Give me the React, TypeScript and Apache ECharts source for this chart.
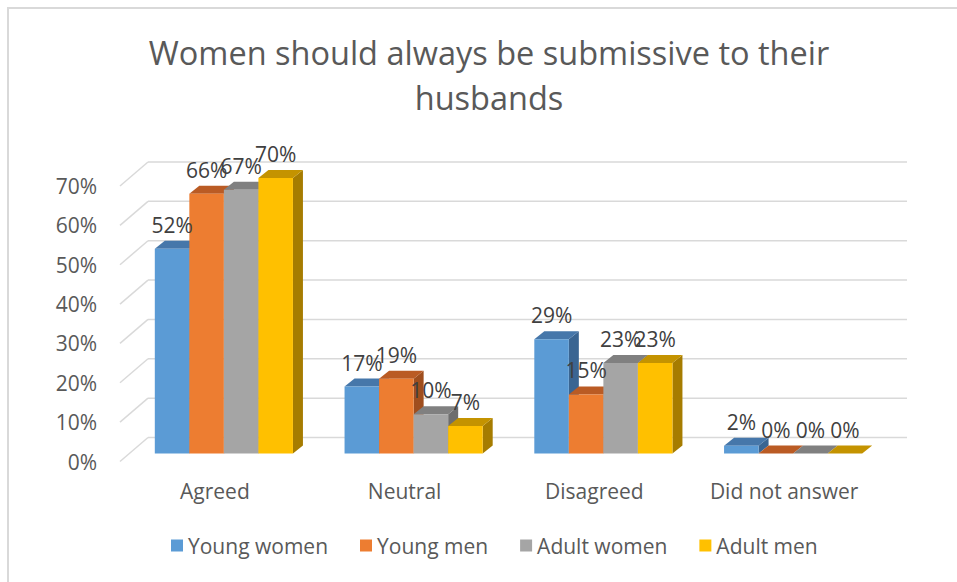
import React, { useEffect, useRef } from "react";
import * as echarts from "echarts";

const categories = ["Agreed", "Neutral", "Disagreed", "Did not answer"];
const seriesNames = ["Young women", "Young men", "Adult women", "Adult men"];
const youngWomen = [0.52, 0.17, 0.29, 0.02];
const youngMen = [0.66, 0.19, 0.15, 0.0];
const adultWomen = [0.67, 0.1, 0.23, 0.0];
const adultMen = [0.7, 0.07, 0.23, 0.0];
const yTicks = [0, 0.1, 0.2, 0.3, 0.4, 0.5, 0.6, 0.7];
const titleText = "Women should always be submissive to their\nhusbands";

const FRONT = ["#5B9BD5", "#ED7D31", "#A5A5A5", "#FFC000"];
const TOP = ["#4677AA", "#BA5B24", "#808080", "#C49300"];
const SIDE = ["#3A6592", "#9F4E1E", "#6E6E6E", "#A67C00"];

const FONT = "Open Sans";
const TXT = "#595959";
const BACK_DX = 28;
const BACK_DY = -24;
const BAR_DX = 9;
const BAR_DY = -8;
const DEPTH_DX = 10;
const DEPTH_DY = -8;

const pct = (v: number) => Math.round(v * 100) + "%";

export default function App() {
  const ref = useRef<HTMLDivElement>(null);
  useEffect(() => {
    if (!ref.current) return;
    const chart = echarts.init(ref.current, null, { renderer: "svg" });
    const allValues = [youngWomen, youngMen, adultWomen, adultMen];

    const makeBarRender = (si: number) => (params: any, api: any) => {
      const ci = api.value(0);
      const v = api.value(1);
      const base = api.coord([ci, 0]);
      const tp = api.coord([ci, v]);
      const band = api.size([1, 0])[0];
      const bw = band * 0.182;
      const x0 = base[0] - 2 * bw + si * bw + BAR_DX;
      const yb = base[1] + BAR_DY;
      const yt = tp[1] + BAR_DY;
      const h = yb - yt;
      const children: any[] = [
        {
          type: "polygon",
          shape: {
            points: [
              [x0 + bw, yt],
              [x0 + bw + DEPTH_DX, yt + DEPTH_DY],
              [x0 + bw + DEPTH_DX, yb + DEPTH_DY],
              [x0 + bw, yb],
            ],
          },
          style: { fill: SIDE[si] },
        },
        {
          type: "polygon",
          shape: {
            points: [
              [x0, yt],
              [x0 + DEPTH_DX, yt + DEPTH_DY],
              [x0 + bw + DEPTH_DX, yt + DEPTH_DY],
              [x0 + bw, yt],
            ],
          },
          style: { fill: TOP[si] },
        },
      ];
      if (h > 0) {
        children.push({
          type: "rect",
          shape: { x: x0, y: yt, width: bw, height: h },
          style: { fill: FRONT[si] },
        });
      }
      children.push({
        type: "text",
        z2: 100,
        style: {
          x: x0 + bw / 2,
          y: yt - 24,
          text: pct(v),
          align: "center",
          verticalAlign: "middle",
          fontFamily: FONT,
          fontSize: 21,
          fill: "#404040",
        },
      });
      return { type: "group", children };
    };

    const gridRender = (params: any, api: any) => {
      const cs = params.coordSys;
      const v = api.value(1);
      const p = api.coord([0, v]);
      const y = p[1];
      const xl = cs.x;
      const xr = cs.x + cs.width;
      return {
        type: "group",
        children: [
          {
            type: "line",
            shape: { x1: xl + BACK_DX, y1: y + BACK_DY, x2: xr + BACK_DX, y2: y + BACK_DY },
            style: { stroke: "#D9D9D9", lineWidth: 1.5 },
          },
          {
            type: "line",
            shape: { x1: xl, y1: y, x2: xl + BACK_DX, y2: y + BACK_DY },
            style: { stroke: "#D9D9D9", lineWidth: 1.5 },
          },
        ],
      };
    };

    const series: any[] = [
      {
        type: "custom",
        name: "grid",
        z: 1,
        silent: true,
        renderItem: gridRender,
        data: yTicks.map((t) => [0, t]),
        legendHoverLink: false,
      },
      ...seriesNames.map((name, si) => ({
        type: "custom",
        name,
        z: 2,
        itemStyle: { color: FRONT[si] },
        renderItem: makeBarRender(si),
        data: allValues[si].map((v, ci) => [ci, v]),
      })),
    ];

    chart.setOption({
      animation: false,
      backgroundColor: "#ffffff",
      graphic: [
        {
          type: "rect",
          shape: { x: 8, y: 8, width: 1000, height: 1000 },
          style: { fill: "none", stroke: "#D9D9D9", lineWidth: 2 },
          silent: true,
        },
        {
          type: "text",
          x: 489,
          y: 30,
          silent: true,
          style: {
            text: titleText,
            align: "center",
            verticalAlign: "top",
            fontFamily: FONT,
            fontSize: 32.5,
            lineHeight: 45,
            fill: TXT,
          },
        },
      ],
      legend: {
        data: seriesNames,
        bottom: 21,
        left: 166,
        icon: "rect",
        itemWidth: 12,
        itemHeight: 12,
        itemGap: 32,
        textStyle: { fontFamily: FONT, fontSize: 21, color: TXT },
      },
      grid: { left: 120, right: 78, top: 186, bottom: 120.5, containLabel: false },
      xAxis: {
        type: "category",
        data: categories,
        axisLine: { show: false },
        axisTick: { show: false },
        splitLine: { show: false },
        axisLabel: { fontFamily: FONT, fontSize: 21, color: TXT, margin: 19, interval: 0 },
      },
      yAxis: {
        type: "value",
        min: 0,
        max: 0.7,
        interval: 0.1,
        axisLine: { show: false },
        axisTick: { show: false },
        splitLine: { show: false },
        axisLabel: {
          fontFamily: FONT,
          fontSize: 21,
          color: TXT,
          margin: 23,
          formatter: (v: number) => pct(v),
        },
      },
      series,
    });
    return () => chart.dispose();
  }, []);
  return (
    <div
      ref={ref}
      style={{ position: "absolute", left: 0, top: 0, width: 957, height: 582 }}
    />
  );
}
